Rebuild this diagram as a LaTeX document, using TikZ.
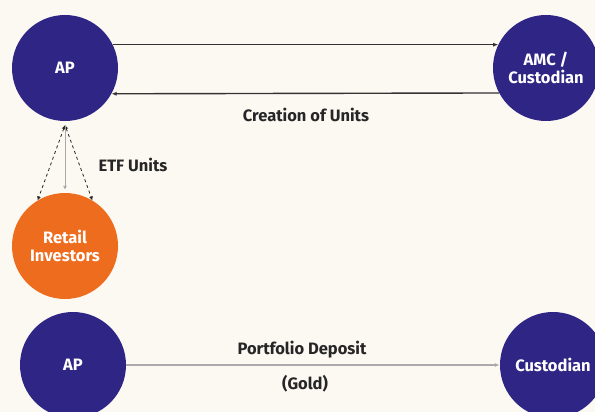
\documentclass[tikz,border=0pt]{standalone}
\usepackage{fontspec}
\setmainfont{Fira Sans}
\usepackage{xcolor}
\definecolor{navy}{RGB}{46,37,133}
\definecolor{retailorange}{RGB}{238,108,30}
\definecolor{cream}{RGB}{252,248,242}
\definecolor{flowgray}{RGB}{170,170,170}
\usetikzlibrary{arrows.meta}
\usetikzlibrary{calc}
\newcommand{\boxfont}{\bfseries\fontsize{16.5}{18}\selectfont}
\tikzset{
    common/.style={circle, minimum size=106pt, inner sep=0pt, align=center, text=white, font=\boxfont},
    party/.style={common, fill=navy},
    investor/.style={common, fill=retailorange},
    flow/.style={-{Latex[length=5pt,width=4pt]}, thick, black!80},
    etf/.style={{Latex[length=4pt,width=4pt]}-{Latex[length=4pt,width=4pt]}, thick, dashed, black!85},
    deposit/.style={-{Latex[length=5pt,width=4pt]}, line width=2pt, flowgray},
    lbl/.style={font=\boxfont, text=black!85}
}
\begin{document}
\begin{tikzpicture}[x=1pt,y=-1pt]
    \fill[cream] (0,0) rectangle (595,412);
    \useasboundingbox (0,0) rectangle (595,412);

    \node[party] (ap) at (65,68) {AP};
    \node[party] (amc) at (546,68) {AMC /\\Custodian};
    \node[investor] (retail) at (65,246) {Retail\\Investors};
    \node[party] (ap2) at (73,365) {AP};
    \node[party] (cust) at (553,365) {Custodian};

    \draw[flow] (ap.26) -- (amc.154);
    \draw[flow, line width=1.4pt] (amc.208) -- (ap.-29);
    \node[lbl] (creation) at (306,115) {Creation of Units};

    \coordinate (apex) at ($(ap.south)+(0,4)$);
    \draw[etf] (apex) -- (retail.121);
    \draw[etf] (apex) -- (retail.59);
    \draw[-{Latex[length=4pt,width=4pt]}, thick, flowgray] (apex) -- ($(retail.north)+(0,-3)$);
    \node[lbl] (etfunits) at (133,165) {ETF Units};

    \draw[deposit] (ap2.east) -- (cust.west);
    \node[lbl] (portfolio) at (302,350) {Portfolio Deposit};
    \node[lbl] (gold) at (305,384) {(Gold)};
\end{tikzpicture}
\end{document}
